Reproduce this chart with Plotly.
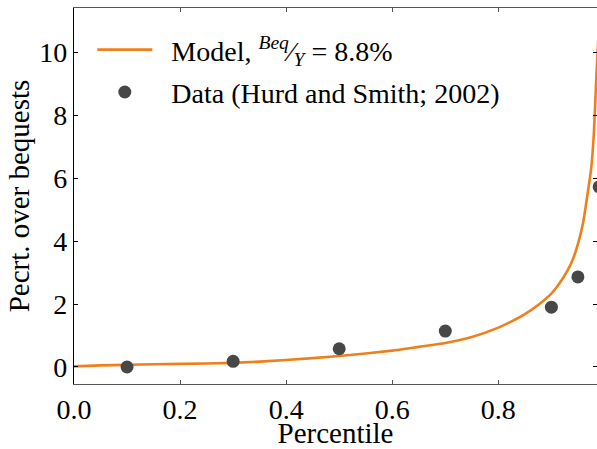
import plotly.graph_objects as go

# Model curve
model_x = [0.0, 0.05, 0.1, 0.2, 0.3, 0.4, 0.5, 0.6, 0.65, 0.7, 0.75, 0.8, 0.825, 0.85,
           0.875, 0.9, 0.915, 0.93, 0.94, 0.95, 0.96, 0.97, 0.975, 0.98, 0.985, 0.99]
model_y = [0.02, 0.05, 0.07, 0.10, 0.13, 0.22, 0.35, 0.52, 0.64, 0.76, 0.95, 1.25, 1.45, 1.68,
           1.97, 2.33, 2.65, 3.05, 3.4, 3.9, 4.6, 5.7, 6.3, 7.4, 9.3, 10.9]

# Data (Hurd and Smith; 2002)
data_x = [0.1, 0.3, 0.5, 0.7, 0.9, 0.95, 0.99]
data_y = [0.0, 0.18, 0.58, 1.14, 1.90, 2.86, 5.72]

yticks = [0, 2, 4, 6, 8, 10]
xticks = [0.0, 0.2, 0.4, 0.6, 0.8]
xticklabels = ["0.0", "0.2", "0.4", "0.6", "0.8"]

FONT = "Liberation Serif"
ORANGE = "#EF7F1A"
DOT = "#474747"
NB = "\u00a0\u00a0"

fig = go.Figure()
fig.add_trace(go.Scatter(
    x=model_x, y=model_y, mode="lines",
    line=dict(color=ORANGE, width=2.6, shape="spline", smoothing=0.5),
    name=NB + "Model, <sup><i>Beq</i></sup>\u2044<sub><i>Y</i></sub> = 8.8%",
    legendgroup="a",
))
fig.add_trace(go.Scatter(
    x=data_x, y=data_y, mode="markers",
    marker=dict(color=DOT, size=13),
    name=NB + "Data (Hurd and Smith; 2002)",
    legendgroup="b",
))
# invisible trace to carry the right-side tick axis
fig.add_trace(go.Scatter(
    x=data_x, y=data_y, mode="markers", yaxis="y2",
    marker=dict(opacity=0), showlegend=False, hoverinfo="skip",
))

yr = [-0.54, 11.40]
fig.update_layout(
    width=597, height=449, autosize=False,
    margin=dict(l=73.5, r=0, t=8, b=65, pad=0),
    paper_bgcolor="white", plot_bgcolor="white",
    font=dict(family=FONT, size=28, color="black"),
    showlegend=True,
    legend=dict(
        x=0.035, y=0.955, xanchor="left", yanchor="top",
        bgcolor="rgba(0,0,0,0)", borderwidth=0,
        font=dict(family=FONT, size=28, color="black"),
        itemwidth=55, traceorder="grouped", tracegroupgap=3,
    ),
    xaxis=dict(
        range=[0, 0.986], tickvals=xticks, ticktext=xticklabels,
        ticks="inside", ticklen=4, tickwidth=1, tickcolor="#555",
        showline=True, linecolor="#555", linewidth=1.3, mirror="ticks",
        showgrid=False, zeroline=False, automargin=False,
        tickfont=dict(family=FONT, size=28),
        title=dict(text="Percentile", font=dict(family=FONT, size=29), standoff=8),
    ),
    yaxis=dict(
        range=yr, tickvals=yticks,
        ticks="inside", ticklen=4, tickwidth=1, tickcolor="black",
        showline=True, linecolor="black", linewidth=1.3, mirror=False,
        showgrid=False, zeroline=False, automargin=False,
        tickfont=dict(family=FONT, size=28),
        title=dict(text="Pecrt. over bequests", font=dict(family=FONT, size=29), standoff=1),
    ),
    yaxis2=dict(
        range=yr, tickvals=yticks, overlaying="y", side="right",
        ticks="inside", ticklen=4, tickwidth=1, tickcolor="black",
        showline=False, showticklabels=False, showgrid=False, zeroline=False,
        automargin=False,
    ),
)

fig.write_html(
    "out.html",
    config={"displayModeBar": False},
    post_script="document.body.style.margin='0';document.body.style.overflow='hidden';",
)
